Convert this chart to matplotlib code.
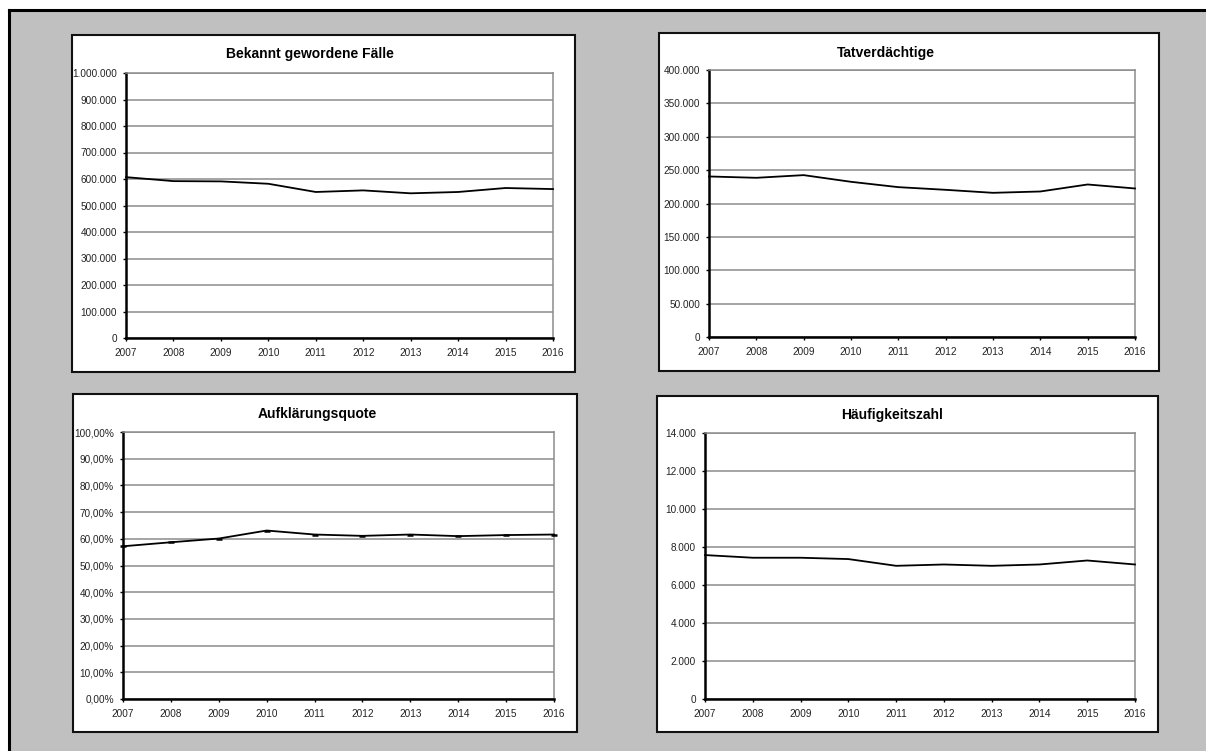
import matplotlib.pyplot as plt
from matplotlib.patches import Rectangle
from matplotlib.lines import Line2D
from matplotlib.ticker import FuncFormatter

plt.rcParams['font.family'] = ['Liberation Sans', 'DejaVu Sans']

years = [2007, 2008, 2009, 2010, 2011, 2012, 2013, 2014, 2015, 2016]

faelle = [607000, 592000, 591000, 582000, 551000, 557000, 546000, 551000, 566000, 562000]
tatverdaechtige = [240500, 238500, 242500, 232500, 224500, 220500, 216000, 218000, 228500, 222500]
aufklaerung = [57.2, 58.7, 60.1, 63.1, 61.6, 61.1, 61.6, 61.0, 61.4, 61.6]
haeufigkeit = [7575, 7435, 7435, 7365, 7010, 7080, 7010, 7080, 7290, 7080]

W, H = 1206, 751


def fx(x):
    return x / W


def fy(y):
    return 1 - y / H


def de_int(v, pos=None):
    return f"{v:,.0f}".replace(',', '.')


def de_pct(v, pos=None):
    return f"{v:.2f}%".replace('.', ',')


fig = plt.figure(figsize=(W / 100, H / 100), dpi=100, facecolor='white')

# grey background with black frame on top and left
fig.add_artist(Rectangle((fx(9), 0), 1 - fx(9), fy(10), transform=fig.transFigure,
                         facecolor='#c0c0c0', edgecolor='none', zorder=0))
fig.add_artist(Line2D([fx(8.5), 1], [fy(9.5), fy(9.5)], transform=fig.transFigure,
                      color='black', lw=2.2, zorder=1))
fig.add_artist(Line2D([fx(8.5), fx(8.5)], [0, fy(9.5)], transform=fig.transFigure,
                      color='black', lw=2.2, zorder=1))

# panel boxes: (left, top, right, bottom) in pixels
panels = [(72, 35, 575, 372), (659, 33, 1159, 371),
          (73, 394, 577, 732), (657, 396, 1158, 732)]
for l, t, r, b in panels:
    fig.add_artist(Rectangle((fx(l), fy(b)), fx(r - l), (b - t) / H, transform=fig.transFigure,
                             facecolor='white', edgecolor='#111111', lw=1.5, zorder=2))

# plot areas
plots = [
    ((126, 73, 553, 338), faelle, 'Bekannt gewordene Fälle', 1000000, 100000, de_int, 310, 54),
    ((709, 70, 1135, 337), tatverdaechtige, 'Tatverdächtige', 400000, 50000, de_int, 886, 53),
    ((123, 432, 554, 699), aufklaerung, 'Aufklärungsquote', 100, 10, de_pct, 317, 414),
    ((705, 433, 1135, 699), haeufigkeit, 'Häufigkeitszahl', 14000, 2000, de_int, 892, 415),
]

for (l, t, r, b), values, title, ymax, step, fmt, tx, ty in plots:
    ax = fig.add_axes([fx(l), fy(b), fx(r - l), (b - t) / H], zorder=3)
    ax.set_facecolor('white')
    if title == 'Aufklärungsquote':
        ax.plot(years, values, color='black', lw=1.3, marker='_', ms=4, mew=1.8,
                clip_on=False, zorder=4)
    else:
        ax.plot(years, values, color='black', lw=1.3, clip_on=False, zorder=4)
    ax.set_xlim(2007, 2016)
    ax.set_ylim(0, ymax)
    ax.set_xticks(years)
    ax.set_yticks(range(0, ymax + 1, step))
    ax.yaxis.set_major_formatter(FuncFormatter(fmt))
    ax.grid(axis='y', color='#8c8c8c', lw=1.1)
    ax.set_axisbelow(True)
    for side in ('left', 'bottom'):
        ax.spines[side].set_color('black')
        ax.spines[side].set_linewidth(1.8)
    for side in ('top', 'right'):
        ax.spines[side].set_color('#8c8c8c')
        ax.spines[side].set_linewidth(1.1)
    ax.tick_params(direction='out', length=2.5, width=1, colors='black',
                   labelsize=7.2, labelcolor='#222222', pad=4)
    ax.tick_params(axis='x', pad=5)
    fig.text(fx(tx), fy(ty), title, ha='center', va='center',
             fontsize=10, fontweight='bold', color='black', zorder=5)

fig.savefig('out.png', dpi=100, facecolor='white')
